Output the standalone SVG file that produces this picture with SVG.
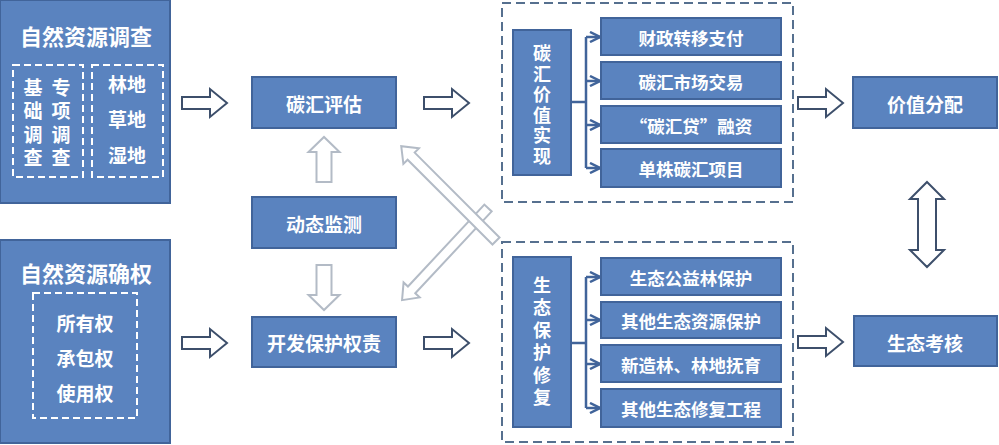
<svg xmlns="http://www.w3.org/2000/svg" width="999" height="445" viewBox="0 0 999 445">
<defs>
<style>
.node{fill:#5a83bf;stroke:#41649a;stroke-width:2}
.t{font-family:"Noto Sans CJK SC","Noto Sans",sans-serif;font-weight:bold;fill:#fff;text-anchor:middle;dominant-baseline:central}
.t22{font-size:22px}
.t19{font-size:19px}
.t20{font-size:18px}
.t17{font-size:17.5px}
.idash{fill:none;stroke:#fff;stroke-width:2;stroke-dasharray:7 4}
.cont{fill:none;stroke:#56708f;stroke-width:2;stroke-dasharray:9 5}
.darr{fill:#fff;stroke:#3d4f6b;stroke-width:2;stroke-linejoin:miter}
.larr{fill:#fff;stroke:#b3bbc6;stroke-width:2;stroke-linejoin:miter}
.br{fill:none;stroke:#41649a;stroke-width:2.5}
</style>
<marker id="chev" viewBox="0 0 10 10" refX="9" refY="5" markerWidth="5" markerHeight="5" markerUnits="strokeWidth" orient="auto">
<path d="M1,1 L9,5 L1,9" fill="none" stroke="#41649a" stroke-width="2"/>
</marker>
<path id="harr" d="M0,-6 h28 v-8 l17,14 l-17,14 v-8 h-28 z"/>
</defs>
<rect width="999" height="445" fill="#fff"/>

<g id="containers">
<rect class="cont" x="502" y="3" width="291" height="199"/>
<rect class="cont" x="502" y="242" width="291" height="200"/>
</g>

<g id="node-survey">
<rect class="node" x="0" y="0" width="170" height="203"/>
<text class="t t22" x="86" y="35">自然资源调查</text>
<rect class="idash" x="13" y="65" width="70" height="112"/>
<rect class="idash" x="92" y="65" width="71" height="112"/>
<text class="t t19"><tspan x="33" y="86">基</tspan><tspan x="33" y="109">础</tspan><tspan x="33" y="133">调</tspan><tspan x="33" y="156">查</tspan></text>
<text class="t t19"><tspan x="61" y="86">专</tspan><tspan x="61" y="109">项</tspan><tspan x="61" y="133">调</tspan><tspan x="61" y="156">查</tspan></text>
<text class="t t19" x="127" y="83">林地</text>
<text class="t t19" x="127" y="118">草地</text>
<text class="t t19" x="127" y="154">湿地</text>
</g>

<g id="node-rights">
<rect class="node" x="0" y="240" width="170" height="203"/>
<text class="t t22" x="86" y="272">自然资源确权</text>
<rect class="idash" x="33" y="293" width="104" height="125"/>
<text class="t t19" x="85" y="322">所有权</text>
<text class="t t19" x="85" y="357">承包权</text>
<text class="t t19" x="85" y="392">使用权</text>
</g>

<g id="node-assess">
<rect class="node" x="252" y="77" width="144" height="51"/>
<text class="t t19" x="324" y="103">碳汇评估</text>
</g>
<g id="node-monitor">
<rect class="node" x="252" y="197" width="144" height="51"/>
<text class="t t19" x="324" y="223">动态监测</text>
</g>
<g id="node-duty">
<rect class="node" x="252" y="317" width="144" height="50"/>
<text class="t t19" x="324" y="342">开发保护权责</text>
</g>

<g id="node-carbon-value">
<rect class="node" x="513" y="30" width="58" height="145"/>
<text class="t t20"><tspan x="542" y="52">碳</tspan><tspan x="542" y="72.6">汇</tspan><tspan x="542" y="93.2">价</tspan><tspan x="542" y="113.8">值</tspan><tspan x="542" y="134.4">实</tspan><tspan x="542" y="155">现</tspan></text>
</g>
<g id="node-c1"><rect class="node" x="601" y="18" width="180" height="37"/><text class="t t17" x="691" y="37">财政转移支付</text></g>
<g id="node-c2"><rect class="node" x="601" y="62" width="180" height="37"/><text class="t t17" x="691" y="81">碳汇市场交易</text></g>
<g id="node-c3"><rect class="node" x="601" y="106" width="180" height="37"/><text class="t t17" x="691" y="125">“碳汇贷”融资</text></g>
<g id="node-c4"><rect class="node" x="601" y="149" width="180" height="38"/><text class="t t17" x="691" y="168">单株碳汇项目</text></g>

<g id="node-eco">
<rect class="node" x="513" y="257" width="58" height="170"/>
<text class="t t20"><tspan x="542" y="284">生</tspan><tspan x="542" y="306">态</tspan><tspan x="542" y="329">保</tspan><tspan x="542" y="351">护</tspan><tspan x="542" y="374">修</tspan><tspan x="542" y="396">复</tspan></text>
</g>
<g id="node-e1"><rect class="node" x="601" y="258" width="180" height="37"/><text class="t t17" x="691" y="277">生态公益林保护</text></g>
<g id="node-e2"><rect class="node" x="601" y="302" width="180" height="36"/><text class="t t17" x="691" y="320">其他生态资源保护</text></g>
<g id="node-e3"><rect class="node" x="601" y="345" width="180" height="37"/><text class="t t17" x="691" y="364">新造林、林地抚育</text></g>
<g id="node-e4"><rect class="node" x="601" y="389" width="180" height="38"/><text class="t t17" x="691" y="408">其他生态修复工程</text></g>

<g id="node-distribute">
<rect class="node" x="853" y="77" width="144" height="51"/>
<text class="t t19" x="925" y="103">价值分配</text>
</g>
<g id="node-evaluate">
<rect class="node" x="854" y="316" width="143" height="50"/>
<text class="t t19" x="925" y="342">生态考核</text>
</g>

<g id="connectors">
<use href="#harr" class="darr" transform="translate(182,103)"/>
<use href="#harr" class="darr" transform="translate(182,343)"/>
<use href="#harr" class="darr" transform="translate(424,103)"/>
<use href="#harr" class="darr" transform="translate(424,343)"/>
<use href="#harr" class="darr" transform="translate(798,103)"/>
<use href="#harr" class="darr" transform="translate(798,342)"/>
<path class="larr" d="M316.5,182 v-30 h-8 l15.5,-15 l15.5,15 h-8 v30 z"/>
<path class="larr" d="M316.5,265 v30 h-8 l15.5,15 l15.5,-15 h-8 v-30 z"/>
<path class="larr" transform="translate(488,208) rotate(133)" d="M0,-5 h112 v-6 l14,11 l-14,11 v-6 h-112 z"/>
<path class="larr" transform="translate(496,241) rotate(-135)" d="M0,-5 h120 v-6 l14,11 l-14,11 v-6 h-120 z"/>
<path class="darr" d="M927,182 l17,17 h-8 v51 h8 l-17,17 l-17,-17 h8 v-51 h-8 z"/>
<path class="br" d="M571,102 H586 M586,37 V168"/>
<path class="br" d="M586,37 H600" marker-end="url(#chev)"/>
<path class="br" d="M586,81 H600" marker-end="url(#chev)"/>
<path class="br" d="M586,125 H600" marker-end="url(#chev)"/>
<path class="br" d="M586,168 H600" marker-end="url(#chev)"/>
<path class="br" d="M571,343 H586 M586,277 V408"/>
<path class="br" d="M586,277 H600" marker-end="url(#chev)"/>
<path class="br" d="M586,320 H600" marker-end="url(#chev)"/>
<path class="br" d="M586,364 H600" marker-end="url(#chev)"/>
<path class="br" d="M586,408 H600" marker-end="url(#chev)"/>
</g>
</svg>
